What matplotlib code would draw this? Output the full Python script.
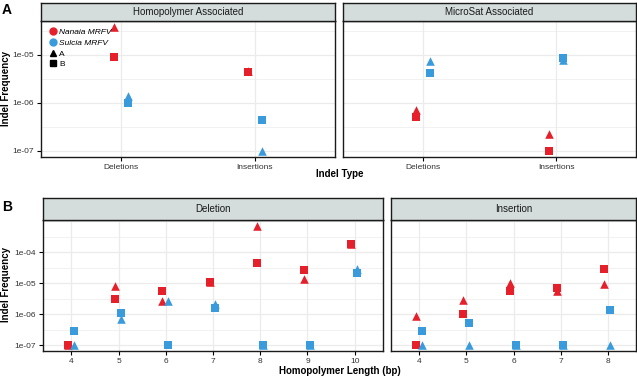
import matplotlib
matplotlib.use("Agg")
import matplotlib.pyplot as plt
from matplotlib.lines import Line2D
import numpy as np

plt.rcParams['font.family'] = ['Liberation Sans', 'DejaVu Sans']

# Panel A: indel type per association
indel_types = ['Deletions', 'Insertions']
homo_nanaia_A = [3.8e-5, 4.7e-6]
homo_nanaia_B = [9.1e-6, 4.5e-6]
homo_sulcia_A = [1.4e-6, 1.0e-7]
homo_sulcia_B = [1.0e-6, 4.5e-7]
micro_nanaia_A = [7.1e-7, 2.2e-7]
micro_nanaia_B = [5.2e-7, 1.0e-7]
micro_sulcia_A = [7.5e-6, 7.9e-6]
micro_sulcia_B = [4.2e-6, 8.7e-6]

# Panel B: homopolymer length
del_lengths = ['4', '5', '6', '7', '8', '9', '10']
del_nanaia_A = [1e-7, 8.1e-6, 2.6e-6, 1.1e-5, 7.1e-4, 1.35e-5, 1.8e-4]
del_nanaia_B = [1e-7, 3.1e-6, 5.6e-6, 1.1e-5, 4.6e-5, 2.6e-5, 1.8e-4]
del_sulcia_A = [1e-7, 7.2e-7, 2.6e-6, 2.1e-6, 1e-7, 1e-7, 2.8e-5]
del_sulcia_B = [2.8e-7, 1.07e-6, 1e-7, 1.6e-6, 1e-7, 1e-7, 2.2e-5]

ins_lengths = ['4', '5', '6', '7', '8']
ins_nanaia_A = [8.7e-7, 2.9e-6, 1.05e-5, 5.6e-6, 9.3e-6]
ins_nanaia_B = [1e-7, 1.0e-6, 5.6e-6, 7.2e-6, 2.8e-5]
ins_sulcia_A = [1e-7, 1e-7, 1e-7, 1e-7, 1e-7]
ins_sulcia_B = [2.8e-7, 5.3e-7, 1e-7, 1e-7, 1.4e-6]

RED = '#E5202B'
BLUE = '#3A9BDC'
STRIP = '#D4DCDC'
W, H = 637, 378

fig = plt.figure(figsize=(W / 100, H / 100), dpi=100)


def box(l, t, r, b):
    return [l / W, 1 - b / H, (r - l) / W, (b - t) / H]


def log_limits(*series):
    vals = np.log10(np.concatenate([np.asarray(s) for s in series]))
    lo, hi = vals.min(), vals.max()
    pad = 0.05 * (hi - lo)
    return 10 ** (lo - pad), 10 ** (hi + pad)


def panel(rect, strip_rect, title, cats, data, ylim, dodge, yticks, show_y):
    ax = fig.add_axes(box(*rect))
    n = len(cats)
    x = np.arange(n)
    # gridlines
    for e in np.arange(-8, -2.5, 0.5):
        v = 10 ** e
        if ylim[0] <= v <= ylim[1]:
            lw = 0.9 if e == int(e) else 0.5
            ax.axhline(v, color='#EBEBEB', lw=lw, zorder=0)
    for xi in x:
        ax.axvline(xi, color='#EBEBEB', lw=0.9, zorder=0)
    (na, nb, sa, sb) = data
    ax.scatter(x - dodge[0], na, marker='^', s=38, color=RED, zorder=3, lw=0)
    ax.scatter(x - dodge[0], nb, marker='s', s=30, color=RED, zorder=3, lw=0)
    ax.scatter(x + dodge[1], sa, marker='^', s=38, color=BLUE, zorder=3, lw=0)
    ax.scatter(x + dodge[1], sb, marker='s', s=30, color=BLUE, zorder=3, lw=0)
    ax.set_yscale('log')
    ax.set_ylim(*ylim)
    ax.set_xlim(-0.6, n - 1 + 0.6)
    ax.set_xticks(x)
    ax.set_xticklabels(cats)
    ax.minorticks_off()
    ax.set_yticks(yticks)
    ax.set_yticklabels([f"{v:.0e}" for v in yticks])
    if not show_y:
        ax.tick_params(axis='y', left=False, labelleft=False)
    ax.tick_params(axis='both', labelsize=6, colors='#222222', length=3, width=0.8, pad=2)
    ax.tick_params(axis='both', colors='black', labelcolor='#333333')
    for sp in ax.spines.values():
        sp.set_linewidth(1.0)
        sp.set_color('#1a1a1a')
    sa_ = fig.add_axes(box(*strip_rect))
    sa_.set_facecolor(STRIP)
    sa_.set_xticks([])
    sa_.set_yticks([])
    for sp in sa_.spines.values():
        sp.set_linewidth(1.0)
        sp.set_color('#1a1a1a')
    sa_.text(0.5, 0.5, title, ha='center', va='center', fontsize=7, color='#1a1a1a',
             transform=sa_.transAxes)
    return ax


ylimA = log_limits(homo_nanaia_A, homo_nanaia_B, homo_sulcia_A, homo_sulcia_B,
                   micro_nanaia_A, micro_nanaia_B, micro_sulcia_A, micro_sulcia_B)
ylimB = log_limits(del_nanaia_A, del_nanaia_B, del_sulcia_A, del_sulcia_B,
                   ins_nanaia_A, ins_nanaia_B, ins_sulcia_A, ins_sulcia_B)

axA1 = panel((41, 21, 335, 157), (41, 3, 335, 21), 'Homopolymer Associated', indel_types,
             (homo_nanaia_A, homo_nanaia_B, homo_sulcia_A, homo_sulcia_B), ylimA,
             (0.05, 0.05), [1e-7, 1e-6, 1e-5], True)
axA2 = panel((343, 21, 636, 157), (343, 3, 636, 21), 'MicroSat Associated', indel_types,
             (micro_nanaia_A, micro_nanaia_B, micro_sulcia_A, micro_sulcia_B), ylimA,
             (0.05, 0.05), [1e-7, 1e-6, 1e-5], False)
axB1 = panel((43, 220, 383, 351), (43, 198, 383, 220), 'Deletion', del_lengths,
             (del_nanaia_A, del_nanaia_B, del_sulcia_A, del_sulcia_B), ylimB,
             (0.07, 0.05), [1e-7, 1e-6, 1e-5, 1e-4], True)
axB2 = panel((391, 220, 636, 351), (391, 198, 636, 220), 'Insertion', ins_lengths,
             (ins_nanaia_A, ins_nanaia_B, ins_sulcia_A, ins_sulcia_B), ylimB,
             (0.07, 0.05), [1e-7, 1e-6, 1e-5, 1e-4], False)

# legend inside panel A
handles = [
    Line2D([], [], marker='o', ls='', color=RED, markersize=5),
    Line2D([], [], marker='o', ls='', color=BLUE, markersize=5),
    Line2D([], [], marker='^', ls='', color='black', markersize=5),
    Line2D([], [], marker='s', ls='', color='black', markersize=4.5),
]
leg = axA1.legend(handles, ['Nanaia MRFV', 'Sulcia MRFV', 'A', 'B'], loc='upper left',
                  bbox_to_anchor=(0.005, 0.99), frameon=False, fontsize=6,
                  handletextpad=0.1, labelspacing=0.35, handlelength=1.2,
                  borderaxespad=0.3)
for t in leg.get_texts()[:2]:
    t.set_style('italic')

# axis titles and panel labels
fig.text(340 / W, 1 - 174 / H, 'Indel Type', ha='center', va='center', fontsize=7, fontweight='bold')
fig.text(340 / W, 1 - 371 / H, 'Homopolymer Length (bp)', ha='center', va='center',
         fontsize=7, fontweight='bold')
fig.text(6 / W, 1 - 89 / H, 'Indel Frequency', ha='center', va='center', rotation=90,
         fontsize=7, fontweight='bold')
fig.text(6 / W, 1 - 285 / H, 'Indel Frequency', ha='center', va='center', rotation=90,
         fontsize=7, fontweight='bold')
fig.text(2 / W, 1 - 10 / H, 'A', ha='left', va='center', fontsize=10, fontweight='bold')
fig.text(2 / W, 1 - 207 / H, 'B', ha='left', va='center', fontsize=10, fontweight='bold')

fig.savefig('out.png', dpi=100)
